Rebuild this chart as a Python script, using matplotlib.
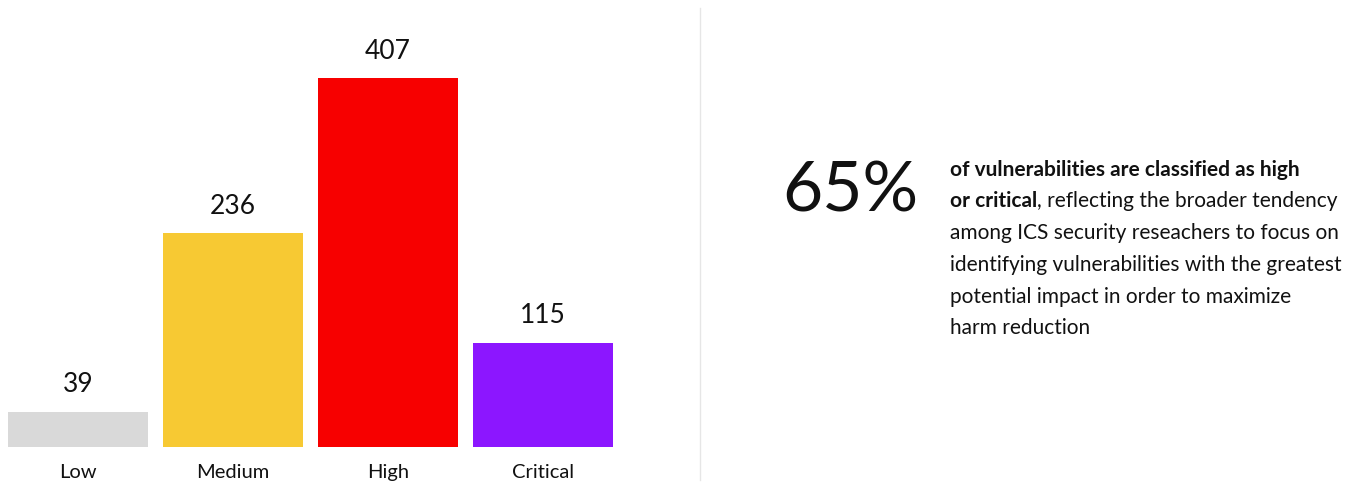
import matplotlib
matplotlib.use('Agg')
import matplotlib.pyplot as plt

plt.rcParams['font.family'] = ['Lato', 'DejaVu Sans']

# data
categories = ['Low', 'Medium', 'High', 'Critical']
counts = [39, 236, 407, 115]
colors = ['#d9d9d9', '#f7c933', '#f70000', '#8c16ff']

big_number = '65%'
bold_line1 = 'of vulnerabilities are classified as high'
bold_line2 = 'or critical'
rest_line2 = ', reflecting the broader tendency'
other_lines = ['among ICS security reseachers to focus on',
               'identifying vulnerabilities with the greatest',
               'potential impact in order to maximize',
               'harm reduction']

W, H = 1362, 487
fig = plt.figure(figsize=(W / 100, H / 100), dpi=100)

# bar chart on the left
ax = fig.add_axes([0.5 / W, 40 / H, 620 / W, 439 / H])
x = range(len(categories))
ax.bar(x, counts, width=140 / 155, color=colors)
ax.set_xlim(-0.5, 3.5)
ax.set_ylim(0, 439 / 0.9066)
for i, v in enumerate(counts):
    ax.annotate(str(v), (i, v), xytext=(0, 27), textcoords='offset pixels',
                ha='center', va='center', fontsize=19, color='#111111')
ax.set_xticks(list(x))
ax.set_xticklabels(categories, fontsize=14.5, color='#111111')
ax.tick_params(axis='x', length=0, pad=12)
ax.set_yticks([])
for s in ax.spines.values():
    s.set_visible(False)

# divider
fig.add_artist(plt.Line2D([700 / W, 700 / W], [1 - 8 / H, 1 - 480 / H],
                          color='#e6e6e6', linewidth=1))

# big percentage
fig.text(782 / W, 1 - 192 / H, big_number, fontsize=50, fontweight='normal',
         ha='left', va='center', color='#111111')

# paragraph
x0 = 950 / W
line_y = [170, 201, 233, 265, 297, 328]
fs = 15
fig.text(x0, 1 - line_y[0] / H, bold_line1, fontsize=fs, fontweight='bold',
         va='center', color='#111111')
t = fig.text(x0, 1 - line_y[1] / H, bold_line2, fontsize=fs, fontweight='bold',
             va='center', color='#111111')
fig.canvas.draw()
bb = t.get_window_extent()
fig.text(bb.x1 / W, 1 - line_y[1] / H, rest_line2, fontsize=fs,
         va='center', color='#111111')
for yy, line in zip(line_y[2:], other_lines):
    fig.text(x0, 1 - yy / H, line, fontsize=fs, va='center', color='#111111')

fig.savefig('out.png', dpi=100, facecolor='white')
